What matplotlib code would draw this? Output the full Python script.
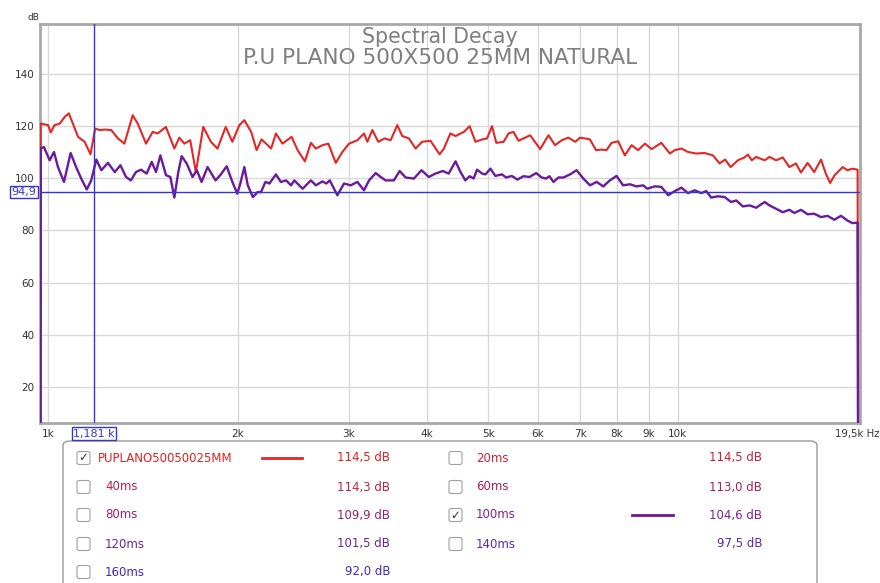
import matplotlib
matplotlib.use("Agg")
import matplotlib.pyplot as plt
from matplotlib.patches import FancyBboxPatch

# ---------------- data ----------------
red_freq = [972, 972.5, 999, 1009, 1023, 1043, 1062, 1078, 1094, 1115, 1142, 1167, 1187, 1207, 1229,
            1259, 1290, 1321, 1362, 1387, 1430, 1465, 1492, 1538, 1586, 1615, 1645, 1681, 1716,
            1763, 1813, 1857, 1914, 1961, 2012, 2049, 2101, 2143, 2182, 2219, 2260, 2300, 2356,
            2436, 2490, 2557, 2614, 2662, 2727, 2787, 2863, 2933, 3006, 3099, 3175, 3214, 3273,
            3345, 3424, 3500, 3586, 3652, 3742, 3834, 3927, 4049, 4187, 4253, 4355, 4438, 4520,
            4575, 4673, 4774, 4891, 4980, 5073, 5152, 5292, 5388, 5487, 5588, 5727, 5832, 6049,
            6236, 6389, 6546, 6708, 6879, 7000, 7129, 7260, 7421, 7575, 7712, 7855, 8048, 8246,
            8454, 8656, 8876, 9094, 9425, 9724, 9904, 10145, 10392, 10710, 11042, 11382, 11664,
            11905, 12143, 12472, 12776, 12936, 13126, 13333, 13758, 14000, 14345, 14698, 15060,
            15424, 15710, 16096, 16493, 16908, 17206, 17483, 17771, 18304, 18624, 18967, 19330,
            19360]
red_db = [0, 121.0, 120.4, 117.6, 120.4, 121.0, 123.6, 124.9, 121.0, 115.9, 114.0, 109.2, 119.1, 118.5,
          118.7, 118.5, 115.3, 113.3, 124.2, 121.0, 113.3, 117.8, 117.2, 119.7, 111.4, 115.6, 113.3,
          114.6, 102.4, 119.7, 114.0, 111.4, 119.7, 114.0, 120.4, 122.3, 117.8, 110.8, 114.9, 113.3,
          111.4, 117.2, 113.3, 115.9, 110.8, 106.5, 113.6, 111.4, 112.7, 113.3, 105.9, 110.1, 113.3,
          114.6, 117.2, 114.0, 118.5, 114.0, 115.3, 114.6, 120.4, 116.2, 115.3, 111.4, 114.0, 114.4,
          109.2, 111.4, 117.2, 116.2, 117.2, 117.8, 120.0, 114.0, 114.9, 115.3, 120.0, 113.6, 114.0,
          117.2, 117.8, 114.4, 115.6, 116.5, 111.2, 116.5, 112.7, 114.6, 115.6, 114.0, 115.6, 115.3,
          114.9, 110.8, 111.0, 110.8, 113.6, 114.2, 108.8, 112.7, 110.8, 113.3, 111.2, 113.6, 109.5,
          110.8, 111.4, 110.1, 109.5, 109.7, 108.8, 105.7, 107.2, 104.3, 106.9, 108.0, 109.1, 106.9,
          108.2, 106.9, 108.2, 106.9, 108.0, 104.3, 105.7, 102.2, 105.9, 102.4, 107.2, 101.8, 98.2,
          101.2, 104.3, 103.1, 103.7, 103.3, 0]

purple_freq = [972, 972.5, 984, 1005, 1021, 1036, 1059, 1085, 1107, 1128, 1151, 1170, 1192, 1214, 1244,
               1275, 1302, 1329, 1353, 1378, 1404, 1433, 1460, 1483, 1507, 1538, 1563, 1586, 1609,
               1629, 1659, 1695, 1722, 1752, 1791, 1844, 1876, 1921, 1961, 1997, 2019, 2049, 2075,
               2114, 2151, 2178, 2213, 2246, 2300, 2342, 2387, 2431, 2460, 2536, 2614, 2662, 2727,
               2766, 2801, 2880, 2951, 3024, 3099, 3175, 3234, 3314, 3375, 3436, 3542, 3617, 3697,
               3811, 3918, 4024, 4123, 4237, 4328, 4438, 4520, 4600, 4673, 4742, 4802, 4891, 4952,
               5043, 5134, 5259, 5343, 5453, 5567, 5691, 5817, 5961, 6085, 6183, 6258, 6350, 6468,
               6587, 6749, 6913, 7085, 7260, 7438, 7622, 7808, 8000, 8194, 8404, 8603, 8821, 8951,
               9200, 9425, 9664, 9904, 10145, 10392, 10650, 10906, 11107, 11312, 11592, 11880,
               12170, 12396, 12702, 13016, 13333, 13758, 14000, 14345, 14698, 15060, 15336, 15710,
               16096, 16493, 16908, 17312, 17752, 18190, 18624, 18967, 19330, 19360]
purple_db = [0, 111.4, 112.0, 106.9, 110.1, 104.3, 98.6, 109.7, 104.3, 99.9, 95.7, 99.2, 107.2, 103.1,
             105.9, 102.4, 105.0, 100.5, 99.2, 102.4, 103.3, 101.8, 106.3, 102.4, 108.8, 101.2, 100.5,
             92.6, 102.4, 108.5, 105.7, 100.5, 103.1, 98.6, 104.3, 99.2, 101.2, 104.6, 98.6, 94.1,
             98.0, 104.3, 97.3, 92.8, 94.7, 94.7, 98.6, 98.0, 101.5, 98.6, 99.2, 97.3, 99.2, 96.0,
             99.2, 97.3, 98.8, 98.0, 99.2, 93.5, 98.0, 97.3, 98.6, 95.4, 99.2, 102.0, 100.5, 99.2,
             99.2, 102.8, 100.3, 99.9, 103.1, 100.5, 101.8, 102.8, 101.8, 106.5, 102.4, 99.2, 100.8,
             99.9, 103.3, 101.8, 101.5, 103.7, 100.9, 101.5, 100.3, 100.9, 99.5, 100.8, 100.5, 102.0,
             100.3, 99.9, 100.8, 98.6, 100.3, 100.3, 101.5, 103.1, 99.9, 97.3, 98.6, 96.9, 99.2,
             100.9, 97.3, 97.7, 96.9, 97.3, 96.0, 96.9, 96.7, 93.5, 95.1, 96.4, 94.3, 95.4, 94.3,
             95.1, 92.6, 93.1, 92.8, 90.9, 91.5, 89.2, 89.6, 88.7, 90.9, 89.6, 88.3, 87.0, 87.9,
             86.7, 87.9, 86.2, 86.4, 85.1, 85.6, 84.1, 85.6, 83.8, 82.8, 83.0, 0]

x_ticks = [1000, 2000, 3000, 4000, 5000, 6000, 7000, 8000, 9000, 10000]
x_tick_labels = ["1k", "2k", "3k", "4k", "5k", "6k", "7k", "8k", "9k", "10k"]
x_end_label = "19,5k Hz"
y_ticks = [20, 40, 60, 80, 100, 120, 140]
x_range = (970, 19500)
y_range = (6.3, 159.2)
cursor_freq = 1181
cursor_db = 94.9
cursor_freq_label = "1,181 k"
cursor_db_label = "94,9"

title_lines = ["Spectral Decay", "P.U PLANO 500X500 25MM NATURAL"]

legend_labels = ["PUPLANO50050025MM", "20ms", "40ms", "60ms", "80ms", "100ms",
                 "120ms", "140ms", "160ms"]
legend_values = ["114,5 dB", "114,5 dB", "114,3 dB", "113,0 dB", "109,9 dB", "104,6 dB",
                 "101,5 dB", "97,5 dB", "92,0 dB"]
legend_checked = [True, False, False, False, False, True, False, False, False]
legend_colors = ["#e02020", "#cc2038", "#bb2048", "#aa2058", "#952070", "#802088",
                 "#6a2498", "#5a28a8", "#4428b8"]

RED = "#e32626"
PURPLE = "#6a1a9c"
CURSOR = "#3535d0"
W, H = 880, 583

fig = plt.figure(figsize=(8.8, 5.83), dpi=100)
fig.patch.set_facecolor("white")


def fx(x):
    return x / W


def fy(y):
    return 1 - y / H


ax = fig.add_axes([fx(40), fy(422.5), fx(860) - fx(40), fy(24) - fy(422.5)])
ax.set_xscale("log")
ax.set_xlim(*x_range)
ax.set_ylim(*y_range)

ax.set_xticks(x_ticks)
ax.set_xticklabels(x_tick_labels)
ax.xaxis.set_minor_locator(matplotlib.ticker.NullLocator())
ax.set_yticks(y_ticks)
ax.set_yticklabels([str(v) for v in y_ticks])
ax.tick_params(axis="both", length=0, labelsize=7.5, colors="#333333")
ax.tick_params(axis="x", pad=5)
ax.tick_params(axis="y", pad=4)
ax.grid(True, color="#d9d9d9", lw=1.0)
ax.set_axisbelow(True)
for s in ax.spines.values():
    s.set_color("#a8a8a8")
    s.set_linewidth(2.0)

ax.plot(red_freq, red_db, color=RED, lw=1.5, zorder=3, clip_on=True)
ax.plot(purple_freq, purple_db, color=PURPLE, lw=1.7, zorder=4, clip_on=True)

ax.axvline(cursor_freq, color=CURSOR, lw=1.0, zorder=5)
ax.axhline(cursor_db, color=CURSOR, lw=1.0, zorder=5)

# title
fig.text(0.5, fy(37), title_lines[0], ha="center", va="center",
         fontsize=14.8, color="#7f7f7f")
fig.text(0.5, fy(58), title_lines[1], ha="center", va="center",
         fontsize=15.6, color="#7f7f7f")

# dB unit label
fig.text(fx(28), fy(17), "dB", ha="left", va="center", fontsize=6.5, color="#333333")
# end label at the right
fig.text(fx(879), fy(433.5), x_end_label, ha="right", va="center", fontsize=7.3, color="#333333")

# cursor readouts
fig.text(fx(24), fy(192), cursor_db_label, ha="center", va="center", fontsize=8, color=CURSOR,
         bbox=dict(boxstyle="square,pad=0.12", fc="white", ec=CURSOR, lw=1.0))
fig.text(fx(94), fy(433.5), cursor_freq_label, ha="center", va="center", fontsize=8, color=CURSOR,
         bbox=dict(boxstyle="square,pad=0.12", fc="white", ec=CURSOR, lw=1.0))

# legend panel
panel = FancyBboxPatch((fx(63), fy(600)), fx(817) - fx(63), fy(441) - fy(600),
                       boxstyle="round,pad=0,rounding_size=0.008", transform=fig.transFigure,
                       fc="white", ec="#9a9a9a", lw=1.0, clip_on=False)
fig.patches.append(panel)

row_y = [458, 487, 515, 544, 572]
cols = [dict(box=83.5, text=(98, 105), line=(262, 302), value=390),
        dict(box=455.5, text=(476, 476), line=(632, 673), value=762)]
series_colors = {0: RED, 5: PURPLE}
for i, (lab, val, chk, col) in enumerate(zip(legend_labels, legend_values, legend_checked,
                                             legend_colors)):
    r, c = divmod(i, 2)
    y = row_y[r]
    L = cols[c]
    bs = 13
    cb = FancyBboxPatch((fx(L["box"] - bs / 2), fy(y + bs / 2)), bs / W, bs / H,
                        boxstyle="round,pad=0,rounding_size=0.003", transform=fig.transFigure,
                        fc="white", ec="#a0a0a0", lw=0.8)
    fig.patches.append(cb)
    if chk:
        fig.text(fx(L["box"]), fy(y), "\u2713", ha="center", va="center", fontsize=8.5,
                 color="#333333")
    tx = L["text"][0] if i == 0 else L["text"][1]
    fig.text(fx(tx), fy(y), lab, ha="left", va="center", fontsize=8.5, color=col)
    fig.text(fx(L["value"]), fy(y), val, ha="right", va="center", fontsize=8.5, color=col)
    if chk:
        fig.add_artist(plt.Line2D([fx(L["line"][0]), fx(L["line"][1])], [fy(y), fy(y)],
                                  color=series_colors.get(i, col), lw=2.0,
                                  transform=fig.transFigure))

fig.savefig("out.png", dpi=100, facecolor="white")
